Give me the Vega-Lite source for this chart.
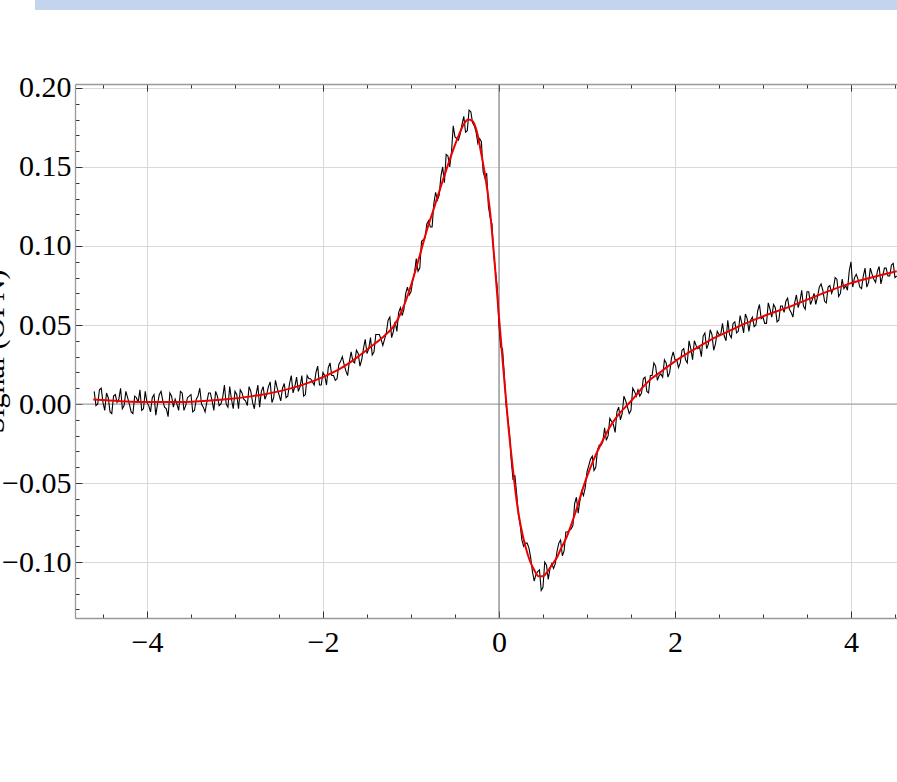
{
  "$schema": "https://vega.github.io/schema/vega-lite/v6.json",
  "autosize": {"type": "none"},
  "padding": {"left": 75, "top": 84, "right": 0, "bottom": 164},
  "width": 822,
  "height": 534,
  "background": "white",
  "view": {"stroke": null},
  "config": {
    "font": "Liberation Serif",
    "axis": {"labelFont": "Liberation Serif", "titleFont": "Liberation Serif", "labelColor": "black", "titleColor": "black"}
  },
  "datasets": {
    "noisy": [
      {"x":-4.6,"y":0.008},{"x":-4.56,"y":0.0},{"x":-4.52,"y":0.01},{"x":-4.48,"y":-0.004},{"x":-4.44,"y":0.004},{"x":-4.4,"y":-0.006},{"x":-4.36,"y":0.006},{"x":-4.32,"y":0.003},{"x":-4.28,"y":-0.003},{"x":-4.24,"y":0.008},
      {"x":-4.2,"y":0.0},{"x":-4.16,"y":-0.006},{"x":-4.12,"y":0.004},{"x":-4.08,"y":0.009},{"x":-4.04,"y":-0.003},{"x":-4.0,"y":0.001},{"x":-3.96,"y":-0.005},{"x":-3.92,"y":0.006},{"x":-3.88,"y":0.0},{"x":-3.84,"y":0.008},
      {"x":-3.8,"y":-0.002},{"x":-3.76,"y":-0.008},{"x":-3.72,"y":0.005},{"x":-3.68,"y":0.003},{"x":-3.64,"y":-0.004},{"x":-3.6,"y":0.007},{"x":-3.56,"y":-0.001},{"x":-3.52,"y":0.005},{"x":-3.48,"y":-0.005},{"x":-3.44,"y":0.003},
      {"x":-3.4,"y":0.01},{"x":-3.36,"y":-0.002},{"x":-3.32,"y":0.001},{"x":-3.28,"y":0.007},{"x":-3.24,"y":-0.004},{"x":-3.2,"y":0.005},{"x":-3.16,"y":0.0},{"x":-3.12,"y":0.012},{"x":-3.08,"y":-0.002},{"x":-3.04,"y":0.003},
      {"x":-3.0,"y":0.008},{"x":-2.96,"y":-0.003},{"x":-2.92,"y":0.007},{"x":-2.88,"y":0.002},{"x":-2.84,"y":0.011},{"x":-2.8,"y":0.001},{"x":-2.76,"y":0.006},{"x":-2.72,"y":-0.002},{"x":-2.68,"y":0.011},{"x":-2.64,"y":0.006},
      {"x":-2.6,"y":0.014},{"x":-2.56,"y":0.004},{"x":-2.52,"y":0.01},{"x":-2.48,"y":0.002},{"x":-2.44,"y":0.013},{"x":-2.4,"y":0.005},{"x":-2.36,"y":0.018},{"x":-2.32,"y":0.011},{"x":-2.28,"y":0.008},{"x":-2.24,"y":0.018},
      {"x":-2.2,"y":0.006},{"x":-2.16,"y":0.016},{"x":-2.12,"y":0.014},{"x":-2.08,"y":0.02},{"x":-2.04,"y":0.012},{"x":-2.0,"y":0.02},{"x":-1.96,"y":0.012},{"x":-1.92,"y":0.026},{"x":-1.88,"y":0.018},{"x":-1.84,"y":0.016},
      {"x":-1.8,"y":0.027},{"x":-1.76,"y":0.025},{"x":-1.72,"y":0.018},{"x":-1.68,"y":0.033},{"x":-1.64,"y":0.026},{"x":-1.6,"y":0.032},{"x":-1.56,"y":0.028},{"x":-1.52,"y":0.041},{"x":-1.48,"y":0.035},{"x":-1.44,"y":0.031},
      {"x":-1.4,"y":0.044},{"x":-1.36,"y":0.044},{"x":-1.32,"y":0.037},{"x":-1.28,"y":0.045},{"x":-1.24,"y":0.055},{"x":-1.2,"y":0.046},{"x":-1.16,"y":0.046},{"x":-1.12,"y":0.061},{"x":-1.08,"y":0.06},{"x":-1.04,"y":0.074},
      {"x":-1.0,"y":0.071},{"x":-0.96,"y":0.083},{"x":-0.92,"y":0.084},{"x":-0.88,"y":0.103},{"x":-0.84,"y":0.105},{"x":-0.8,"y":0.116},{"x":-0.76,"y":0.112},{"x":-0.72,"y":0.134},{"x":-0.68,"y":0.132},{"x":-0.64,"y":0.15},
      {"x":-0.6,"y":0.158},{"x":-0.56,"y":0.15},{"x":-0.52,"y":0.176},{"x":-0.48,"y":0.168},{"x":-0.44,"y":0.171},{"x":-0.4,"y":0.182},{"x":-0.36,"y":0.173},{"x":-0.32,"y":0.185},{"x":-0.28,"y":0.176},{"x":-0.24,"y":0.165},
      {"x":-0.2,"y":0.166},{"x":-0.16,"y":0.143},{"x":-0.12,"y":0.125},{"x":-0.08,"y":0.114},{"x":-0.04,"y":0.084},{"x":0.0,"y":0.05},{"x":0.04,"y":0.035},{"x":0.08,"y":0.0},{"x":0.12,"y":-0.019},{"x":0.16,"y":-0.048},
      {"x":0.2,"y":-0.056},{"x":0.24,"y":-0.076},{"x":0.28,"y":-0.09},{"x":0.32,"y":-0.088},{"x":0.36,"y":-0.097},{"x":0.4,"y":-0.112},{"x":0.44,"y":-0.106},{"x":0.48,"y":-0.118},{"x":0.52,"y":-0.1},{"x":0.56,"y":-0.111},
      {"x":0.6,"y":-0.101},{"x":0.64,"y":-0.101},{"x":0.68,"y":-0.088},{"x":0.72,"y":-0.096},{"x":0.76,"y":-0.081},{"x":0.8,"y":-0.08},{"x":0.84,"y":-0.077},{"x":0.88,"y":-0.059},{"x":0.92,"y":-0.061},{"x":0.96,"y":-0.058},
      {"x":1.0,"y":-0.043},{"x":1.04,"y":-0.035},{"x":1.08,"y":-0.042},{"x":1.12,"y":-0.029},{"x":1.16,"y":-0.026},{"x":1.2,"y":-0.015},{"x":1.24,"y":-0.02},{"x":1.28,"y":-0.011},{"x":1.32,"y":-0.018},{"x":1.36,"y":-0.002},
      {"x":1.4,"y":-0.006},{"x":1.44,"y":0.002},{"x":1.48,"y":-0.006},{"x":1.52,"y":0.01},{"x":1.56,"y":0.005},{"x":1.6,"y":0.005},{"x":1.64,"y":0.016},{"x":1.68,"y":0.008},{"x":1.72,"y":0.018},{"x":1.76,"y":0.026},
      {"x":1.8,"y":0.015},{"x":1.84,"y":0.019},{"x":1.88,"y":0.028},{"x":1.92,"y":0.017},{"x":1.96,"y":0.029},{"x":2.0,"y":0.028},{"x":2.04,"y":0.023},{"x":2.08,"y":0.034},{"x":2.12,"y":0.028},{"x":2.16,"y":0.04},
      {"x":2.2,"y":0.028},{"x":2.24,"y":0.037},{"x":2.28,"y":0.036},{"x":2.32,"y":0.043},{"x":2.36,"y":0.035},{"x":2.4,"y":0.047},{"x":2.44,"y":0.034},{"x":2.48,"y":0.046},{"x":2.52,"y":0.044},{"x":2.56,"y":0.043},
      {"x":2.6,"y":0.053},{"x":2.64,"y":0.042},{"x":2.68,"y":0.052},{"x":2.72,"y":0.046},{"x":2.76,"y":0.051},{"x":2.8,"y":0.057},{"x":2.84,"y":0.046},{"x":2.88,"y":0.055},{"x":2.92,"y":0.05},{"x":2.96,"y":0.063},
      {"x":3.0,"y":0.055},{"x":3.04,"y":0.051},{"x":3.08,"y":0.06},{"x":3.12,"y":0.063},{"x":3.16,"y":0.052},{"x":3.2,"y":0.062},{"x":3.24,"y":0.058},{"x":3.28,"y":0.067},{"x":3.32,"y":0.058},{"x":3.36,"y":0.064},
      {"x":3.4,"y":0.061},{"x":3.44,"y":0.072},{"x":3.48,"y":0.06},{"x":3.52,"y":0.071},{"x":3.56,"y":0.066},{"x":3.6,"y":0.063},{"x":3.64,"y":0.074},{"x":3.68,"y":0.072},{"x":3.72,"y":0.064},{"x":3.76,"y":0.075},
      {"x":3.8,"y":0.073},{"x":3.84,"y":0.079},{"x":3.88,"y":0.07},{"x":3.92,"y":0.073},{"x":3.96,"y":0.072},{"x":4.0,"y":0.09},{"x":4.04,"y":0.08},{"x":4.08,"y":0.079},{"x":4.12,"y":0.073},{"x":4.16,"y":0.086},
      {"x":4.2,"y":0.077},{"x":4.24,"y":0.082},{"x":4.28,"y":0.077},{"x":4.32,"y":0.087},{"x":4.36,"y":0.081},{"x":4.4,"y":0.086},{"x":4.44,"y":0.081},{"x":4.48,"y":0.089},{"x":4.52,"y":0.081},
      {"x":-4.58,"y":-0.001},{"x":-4.54,"y":0.009},{"x":-4.5,"y":0.001},{"x":-4.46,"y":0.007},{"x":-4.42,"y":-0.005},{"x":-4.38,"y":0.005},{"x":-4.34,"y":0.001},{"x":-4.3,"y":0.01},{"x":-4.26,"y":-0.001},{"x":-4.22,"y":0.004},
      {"x":-4.18,"y":-0.005},{"x":-4.14,"y":0.005},{"x":-4.1,"y":0.001},{"x":-4.06,"y":-0.004},{"x":-4.02,"y":0.008},{"x":-3.98,"y":-0.001},{"x":-3.94,"y":0.004},{"x":-3.9,"y":-0.007},{"x":-3.86,"y":0.006},{"x":-3.82,"y":0.002},
      {"x":-3.78,"y":-0.003},{"x":-3.74,"y":0.007},{"x":-3.7,"y":-0.002},{"x":-3.66,"y":0.0},{"x":-3.62,"y":0.008},{"x":-3.58,"y":-0.004},{"x":-3.54,"y":0.004},{"x":-3.5,"y":0.006},{"x":-3.46,"y":-0.004},{"x":-3.42,"y":0.005},
      {"x":-3.38,"y":0.0},{"x":-3.34,"y":-0.005},{"x":-3.3,"y":0.007},{"x":-3.26,"y":0.002},{"x":-3.22,"y":0.008},{"x":-3.18,"y":-0.001},{"x":-3.14,"y":0.004},{"x":-3.1,"y":0.0},{"x":-3.06,"y":0.011},{"x":-3.02,"y":-0.003},
      {"x":-2.98,"y":0.006},{"x":-2.94,"y":0.009},{"x":-2.9,"y":0.003},{"x":-2.86,"y":-0.001},{"x":-2.82,"y":0.008},{"x":-2.78,"y":-0.003},{"x":-2.74,"y":0.012},{"x":-2.7,"y":0.008},{"x":-2.66,"y":0.003},{"x":-2.62,"y":0.011},
      {"x":-2.58,"y":0.001},{"x":-2.54,"y":0.015},{"x":-2.5,"y":0.006},{"x":-2.46,"y":0.01},{"x":-2.42,"y":0.004},{"x":-2.38,"y":0.013},{"x":-2.34,"y":0.007},{"x":-2.3,"y":0.017},{"x":-2.26,"y":0.011},{"x":-2.22,"y":0.005},
      {"x":-2.18,"y":0.018},{"x":-2.14,"y":0.016},{"x":-2.1,"y":0.012},{"x":-2.06,"y":0.024},{"x":-2.02,"y":0.012},{"x":-1.98,"y":0.018},{"x":-1.94,"y":0.023},{"x":-1.9,"y":0.018},{"x":-1.86,"y":0.015},{"x":-1.82,"y":0.025},
      {"x":-1.78,"y":0.03},{"x":-1.74,"y":0.021},{"x":-1.7,"y":0.027},{"x":-1.66,"y":0.027},{"x":-1.62,"y":0.034},{"x":-1.58,"y":0.024},{"x":-1.54,"y":0.035},{"x":-1.5,"y":0.032},{"x":-1.46,"y":0.042},{"x":-1.42,"y":0.033},
      {"x":-1.38,"y":0.044},{"x":-1.34,"y":0.041},{"x":-1.3,"y":0.041},{"x":-1.26,"y":0.053},{"x":-1.22,"y":0.042},{"x":-1.18,"y":0.052},{"x":-1.14,"y":0.058},{"x":-1.1,"y":0.056},{"x":-1.06,"y":0.07},{"x":-1.02,"y":0.069},
      {"x":-0.98,"y":0.078},{"x":-0.94,"y":0.092},{"x":-0.9,"y":0.086},{"x":-0.86,"y":0.104},{"x":-0.82,"y":0.114},{"x":-0.78,"y":0.112},{"x":-0.74,"y":0.127},{"x":-0.7,"y":0.129},{"x":-0.66,"y":0.144},{"x":-0.62,"y":0.14},
      {"x":-0.58,"y":0.157},{"x":-0.54,"y":0.159},{"x":-0.5,"y":0.169},{"x":-0.46,"y":0.167},{"x":-0.42,"y":0.177},{"x":-0.38,"y":0.172},{"x":-0.34,"y":0.186},{"x":-0.3,"y":0.178},{"x":-0.26,"y":0.172},{"x":-0.22,"y":0.168},
      {"x":-0.18,"y":0.147},{"x":-0.14,"y":0.146},{"x":-0.1,"y":0.118},{"x":-0.06,"y":0.095},{"x":-0.02,"y":0.074},{"x":0.02,"y":0.036},{"x":0.06,"y":0.019},{"x":0.1,"y":-0.009},{"x":0.14,"y":-0.036},{"x":0.18,"y":-0.045},
      {"x":0.22,"y":-0.07},{"x":0.26,"y":-0.086},{"x":0.3,"y":-0.088},{"x":0.34,"y":-0.091},{"x":0.38,"y":-0.106},{"x":0.42,"y":-0.108},{"x":0.46,"y":-0.105},{"x":0.5,"y":-0.116},{"x":0.54,"y":-0.102},{"x":0.58,"y":-0.104},
      {"x":0.62,"y":-0.104},{"x":0.66,"y":-0.093},{"x":0.7,"y":-0.086},{"x":0.74,"y":-0.093},{"x":0.78,"y":-0.081},{"x":0.82,"y":-0.079},{"x":0.86,"y":-0.063},{"x":0.9,"y":-0.069},{"x":0.94,"y":-0.055},{"x":0.98,"y":-0.053},
      {"x":1.02,"y":-0.039},{"x":1.06,"y":-0.033},{"x":1.1,"y":-0.04},{"x":1.14,"y":-0.026},{"x":1.18,"y":-0.024},{"x":1.22,"y":-0.023},{"x":1.26,"y":-0.009},{"x":1.3,"y":-0.013},{"x":1.34,"y":-0.005},{"x":1.38,"y":-0.01},
      {"x":1.42,"y":0.005},{"x":1.46,"y":-0.002},{"x":1.5,"y":-0.004},{"x":1.54,"y":0.008},{"x":1.58,"y":0.009},{"x":1.62,"y":0.007},{"x":1.66,"y":0.017},{"x":1.7,"y":0.007},{"x":1.74,"y":0.018},{"x":1.78,"y":0.024},
      {"x":1.82,"y":0.018},{"x":1.86,"y":0.017},{"x":1.9,"y":0.026},{"x":1.94,"y":0.02},{"x":1.98,"y":0.033},{"x":2.02,"y":0.028},{"x":2.06,"y":0.026},{"x":2.1,"y":0.035},{"x":2.14,"y":0.026},{"x":2.18,"y":0.035},
      {"x":2.22,"y":0.04},{"x":2.26,"y":0.035},{"x":2.3,"y":0.03},{"x":2.34,"y":0.045},{"x":2.38,"y":0.038},{"x":2.42,"y":0.044},{"x":2.46,"y":0.038},{"x":2.5,"y":0.044},{"x":2.54,"y":0.051},{"x":2.58,"y":0.04},
      {"x":2.62,"y":0.044},{"x":2.66,"y":0.051},{"x":2.7,"y":0.045},{"x":2.74,"y":0.056},{"x":2.78,"y":0.045},{"x":2.82,"y":0.054},{"x":2.86,"y":0.053},{"x":2.9,"y":0.049},{"x":2.94,"y":0.059},{"x":2.98,"y":0.054},
      {"x":3.02,"y":0.051},{"x":3.06,"y":0.064},{"x":3.1,"y":0.055},{"x":3.14,"y":0.061},{"x":3.18,"y":0.053},{"x":3.22,"y":0.062},{"x":3.26,"y":0.065},{"x":3.3,"y":0.06},{"x":3.34,"y":0.055},{"x":3.38,"y":0.069},
      {"x":3.42,"y":0.065},{"x":3.46,"y":0.062},{"x":3.5,"y":0.071},{"x":3.54,"y":0.063},{"x":3.58,"y":0.07},{"x":3.62,"y":0.068},{"x":3.66,"y":0.076},{"x":3.7,"y":0.065},{"x":3.74,"y":0.074},{"x":3.78,"y":0.07},
      {"x":3.82,"y":0.08},{"x":3.86,"y":0.068},{"x":3.9,"y":0.079},{"x":3.94,"y":0.075},{"x":3.98,"y":0.084},{"x":4.02,"y":0.074},{"x":4.06,"y":0.082},{"x":4.1,"y":0.074},{"x":4.14,"y":0.081},{"x":4.18,"y":0.074},
      {"x":4.22,"y":0.086},{"x":4.26,"y":0.079},{"x":4.3,"y":0.084},{"x":4.34,"y":0.076},{"x":4.38,"y":0.086},{"x":4.42,"y":0.081},{"x":4.46,"y":0.088},{"x":4.5,"y":0.08}
    ],
    "fit": [
      {"x":-4.61,"y":0.0028},{"x":-4.3,"y":0.0018},{"x":-4.0,"y":0.0012},{"x":-3.7,"y":0.0012},{"x":-3.4,"y":0.0018},{"x":-3.1,"y":0.003},{"x":-2.8,"y":0.005},{"x":-2.5,"y":0.008},{"x":-2.25,"y":0.0118},{"x":-2.0,"y":0.017},
      {"x":-1.8,"y":0.0225},{"x":-1.6,"y":0.03},{"x":-1.45,"y":0.0365},{"x":-1.3,"y":0.0432},{"x":-1.2,"y":0.049},{"x":-1.1,"y":0.0595},{"x":-1.0,"y":0.075},{"x":-0.9,"y":0.094},{"x":-0.82,"y":0.11},{"x":-0.75,"y":0.122},
      {"x":-0.67,"y":0.136},{"x":-0.6,"y":0.148},{"x":-0.52,"y":0.161},{"x":-0.45,"y":0.171},{"x":-0.4,"y":0.177},{"x":-0.35,"y":0.18},{"x":-0.3,"y":0.179},{"x":-0.25,"y":0.172},{"x":-0.2,"y":0.158},{"x":-0.15,"y":0.142},
      {"x":-0.1,"y":0.121},{"x":-0.05,"y":0.09},{"x":0.0,"y":0.055},{"x":0.05,"y":0.022},{"x":0.1,"y":-0.01},{"x":0.15,"y":-0.037},{"x":0.2,"y":-0.061},{"x":0.25,"y":-0.078},{"x":0.3,"y":-0.09},{"x":0.35,"y":-0.099},
      {"x":0.4,"y":-0.105},{"x":0.45,"y":-0.109},{"x":0.5,"y":-0.109},{"x":0.55,"y":-0.106},{"x":0.6,"y":-0.102},{"x":0.66,"y":-0.097},{"x":0.7,"y":-0.092},{"x":0.77,"y":-0.084},{"x":0.83,"y":-0.075},{"x":0.89,"y":-0.065},
      {"x":0.95,"y":-0.054},{"x":1.0,"y":-0.046},{"x":1.07,"y":-0.036},{"x":1.17,"y":-0.024},{"x":1.26,"y":-0.0145},{"x":1.36,"y":-0.0065},{"x":1.47,"y":0.0},{"x":1.55,"y":0.005},{"x":1.64,"y":0.011},{"x":1.73,"y":0.016},
      {"x":1.83,"y":0.02},{"x":1.9,"y":0.023},{"x":2.0,"y":0.027},{"x":2.2,"y":0.034},{"x":2.4,"y":0.0405},{"x":2.6,"y":0.0458},{"x":2.8,"y":0.051},{"x":3.0,"y":0.0555},{"x":3.3,"y":0.0615},{"x":3.68,"y":0.07},
      {"x":4.0,"y":0.0765},{"x":4.3,"y":0.081},{"x":4.52,"y":0.084}
    ],
    "band": [{"x":-5.273,"x2":4.7,"y":0.2558,"y2":0.2494}],
    "zero": [{"z":0}]
  },
  "layer": [
    {
      "data": {"name": "band"},
      "mark": {"type": "rect", "color": "#c4d4ee", "clip": false},
      "encoding": {
        "x": {"field": "x", "type": "quantitative", "scale": {"domain": [-4.818, 4.523], "nice": false, "zero": false}, "axis": null},
        "x2": {"field": "x2"},
        "y": {"field": "y", "type": "quantitative", "scale": {"domain": [-0.1354, 0.2025], "nice": false, "zero": false}, "axis": null},
        "y2": {"field": "y2"}
      }
    },
    {
      "data": {"name": "zero"},
      "mark": {"type": "rule", "color": "#999999", "strokeWidth": 1},
      "encoding": {
        "y": {"field": "z", "type": "quantitative", "axis": null}
      }
    },
    {
      "data": {"name": "zero"},
      "mark": {"type": "rule", "color": "#777777", "strokeWidth": 1},
      "encoding": {
        "x": {"field": "z", "type": "quantitative", "axis": null}
      }
    },
    {
      "data": {"name": "noisy"},
      "mark": {"type": "line", "color": "black", "strokeWidth": 1.1},
      "encoding": {
        "x": {
          "field": "x", "type": "quantitative",
          "axis": {
            "orient": "bottom", "title": null,
            "values": [-4.5,-4,-3.5,-3,-2.5,-2,-1.5,-1,-0.5,0,0.5,1,1.5,2,2.5,3,3.5,4,4.5],
            "labelExpr": "abs(round(datum.value*2)%4)==0 ? format(datum.value,'d') : ''",
            "labelFontSize": 30, "labelPadding": 16, "labelOverlap": false, "labelFlush": false,
            "tickSize": {"condition": {"test": "abs(round(datum.value*2)%4)==0", "value": -7}, "value": -4},
            "tickColor": "#333333", "tickWidth": 1,
            "domainColor": "#999999", "domainWidth": 1.3,
            "grid": true, "gridColor": "#d9d9d9", "gridWidth": 1,
            "gridOpacity": {"condition": {"test": "abs(round(datum.value*2)%4)==0", "value": 1}, "value": 0}
          }
        },
        "y": {
          "field": "y", "type": "quantitative",
          "axis": {
            "orient": "left", "title": "Signal (OFN)",
            "titleFontSize": 30, "titleFontWeight": "normal", "titleAngle": -90,
            "titleX": -72, "titleY": 267, "titleAlign": "center", "titleBaseline": "alphabetic",
            "values": [-0.13,-0.12,-0.11,-0.1,-0.09,-0.08,-0.07,-0.06,-0.05,-0.04,-0.03,-0.02,-0.01,0,0.01,0.02,0.03,0.04,0.05,0.06,0.07,0.08,0.09,0.1,0.11,0.12,0.13,0.14,0.15,0.16,0.17,0.18,0.19,0.2],
            "labelExpr": "abs(round(datum.value*100)%5)==0 ? format(datum.value,'.2f') : ''",
            "labelFontSize": 30, "labelPadding": 11, "labelOverlap": false, "labelFlush": false,
            "tickSize": {"condition": {"test": "abs(round(datum.value*100)%5)==0", "value": -7}, "value": -4},
            "tickColor": "#333333", "tickWidth": 1,
            "domainColor": "#999999", "domainWidth": 1.3,
            "grid": true, "gridColor": "#d9d9d9", "gridWidth": 1,
            "gridOpacity": {"condition": {"test": "abs(round(datum.value*100)%5)==0", "value": 1}, "value": 0}
          }
        }
      }
    },
    {
      "data": {"name": "fit"},
      "mark": {"type": "line", "color": "#ee0000", "strokeWidth": 2, "interpolate": "monotone"},
      "encoding": {
        "x": {
          "field": "x", "type": "quantitative",
          "axis": {
            "orient": "top", "title": null, "labels": false,
            "values": [-4.5,-4,-3.5,-3,-2.5,-2,-1.5,-1,-0.5,0,0.5,1,1.5,2,2.5,3,3.5,4,4.5],
            "tickSize": {"condition": {"test": "abs(round(datum.value*2)%4)==0", "value": -7}, "value": -4},
            "tickColor": "#333333", "tickWidth": 1,
            "domainColor": "#999999", "domainWidth": 1.3,
            "grid": false
          }
        },
        "y": {"field": "y", "type": "quantitative", "axis": null}
      }
    }
  ],
  "resolve": {"axis": {"x": "independent", "y": "independent"}}
}
